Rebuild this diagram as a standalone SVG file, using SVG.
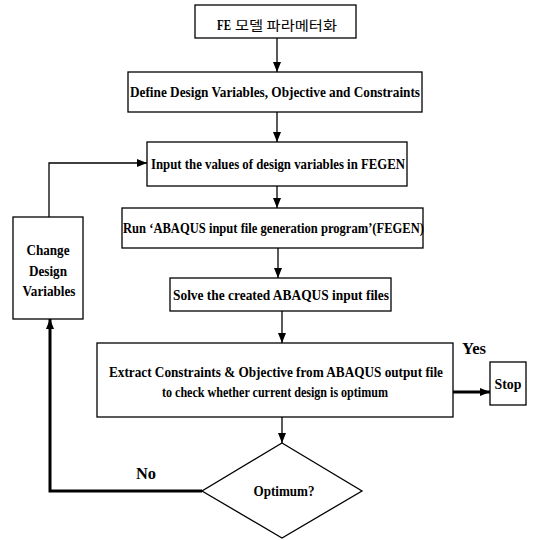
<svg xmlns="http://www.w3.org/2000/svg" width="534" height="540" viewBox="0 0 534 540">
<style>
.box{fill:#fff;stroke:#000;stroke-width:1.3}
.t{font-family:"Liberation Serif","Noto Sans CJK KR",serif;font-weight:bold;font-size:14px;fill:#000}
.k{font-family:"Noto Sans CJK KR",sans-serif;font-weight:normal;font-size:13px;fill:#000}
.lbl{font-family:"Liberation Serif",serif;font-weight:bold;font-size:17px;fill:#000}
.c{fill:none;stroke:#000;stroke-width:1.3}
.thick{fill:none;stroke:#000;stroke-width:3}
</style>
<defs>
<marker id="ah" markerUnits="userSpaceOnUse" markerWidth="10" markerHeight="10" viewBox="0 0 10 10" refX="10" refY="5" orient="auto">
<path d="M0,1 L10,5 L0,9 Z" fill="#000"/>
</marker>
</defs>
<rect width="534" height="540" fill="#fff"/>

<g id="connectors">
<line class="c" x1="277" y1="38" x2="277" y2="72" marker-end="url(#ah)"/>
<line class="c" x1="277" y1="112" x2="277" y2="142" marker-end="url(#ah)"/>
<line class="c" x1="277" y1="186" x2="277" y2="208" marker-end="url(#ah)"/>
<line class="c" x1="278" y1="248" x2="278" y2="278" marker-end="url(#ah)"/>
<line class="c" x1="282" y1="311" x2="282" y2="343" marker-end="url(#ah)"/>
<line class="c" x1="282" y1="417" x2="282" y2="443" marker-end="url(#ah)"/>
<line class="thick" x1="453" y1="392" x2="490" y2="392" marker-end="url(#ah)"/>
<polyline class="thick" points="202,491 50,491 50,319" marker-end="url(#ah)"/>
<polyline class="c" points="49,217 49,163 147,163" marker-end="url(#ah)"/>
</g>

<g id="fe">
<rect class="box" x="195" y="5" width="161" height="33"/>
<text class="t" x="217" y="30" textLength="14" lengthAdjust="spacingAndGlyphs">FE</text>
<text class="k" x="235" y="30" textLength="102" lengthAdjust="spacingAndGlyphs">모델 파라메터화</text>
</g>

<g id="define">
<rect class="box" x="128" y="72" width="294" height="40"/>
<text class="t" x="130" y="97" textLength="290" lengthAdjust="spacingAndGlyphs">Define Design Variables, Objective and Constraints</text>
</g>

<g id="input">
<rect class="box" x="147" y="142" width="260" height="44"/>
<text class="t" x="151" y="169" textLength="254" lengthAdjust="spacingAndGlyphs">Input the values of design variables in FEGEN</text>
</g>

<g id="run">
<rect class="box" x="122" y="208" width="301" height="40"/>
<text class="t" x="123" y="233" textLength="301" lengthAdjust="spacingAndGlyphs">Run ‘ABAQUS input file generation program’(FEGEN)</text>
</g>

<g id="solve">
<rect class="box" x="170" y="278" width="221" height="33"/>
<text class="t" x="173" y="300" textLength="216" lengthAdjust="spacingAndGlyphs">Solve the created ABAQUS input files</text>
</g>

<g id="extract">
<rect class="box" x="97" y="343" width="356" height="74"/>
<text class="t" x="109" y="377" textLength="334" lengthAdjust="spacingAndGlyphs">Extract Constraints &amp; Objective from ABAQUS output file</text>
<text class="t" x="162" y="397" textLength="226" lengthAdjust="spacingAndGlyphs">to check whether current design is optimum</text>
</g>

<g id="stop">
<rect class="box" x="490" y="362" width="36" height="43"/>
<text class="t" x="508" y="389" text-anchor="middle" textLength="27" lengthAdjust="spacingAndGlyphs">Stop</text>
</g>

<g id="change">
<rect class="box" x="13" y="217" width="70" height="102"/>
<text class="t" x="48" y="255" text-anchor="middle" textLength="43" lengthAdjust="spacingAndGlyphs">Change</text>
<text class="t" x="48" y="276" text-anchor="middle" textLength="38" lengthAdjust="spacingAndGlyphs">Design</text>
<text class="t" x="49" y="296" text-anchor="middle" textLength="53" lengthAdjust="spacingAndGlyphs">Variables</text>
</g>

<g id="optimum">
<polygon points="282,443 362,491 282,538 202,491" fill="#fff" stroke="#000" stroke-width="1.3"/>
<text class="t" x="284" y="496" text-anchor="middle" font-size="12.5" textLength="61" lengthAdjust="spacingAndGlyphs">Optimum?</text>
</g>

<g id="labels">
<text class="lbl" x="462" y="354" textLength="24" lengthAdjust="spacingAndGlyphs">Yes</text>
<text class="lbl" x="136" y="479" textLength="20" lengthAdjust="spacingAndGlyphs">No</text>
</g>
</svg>
